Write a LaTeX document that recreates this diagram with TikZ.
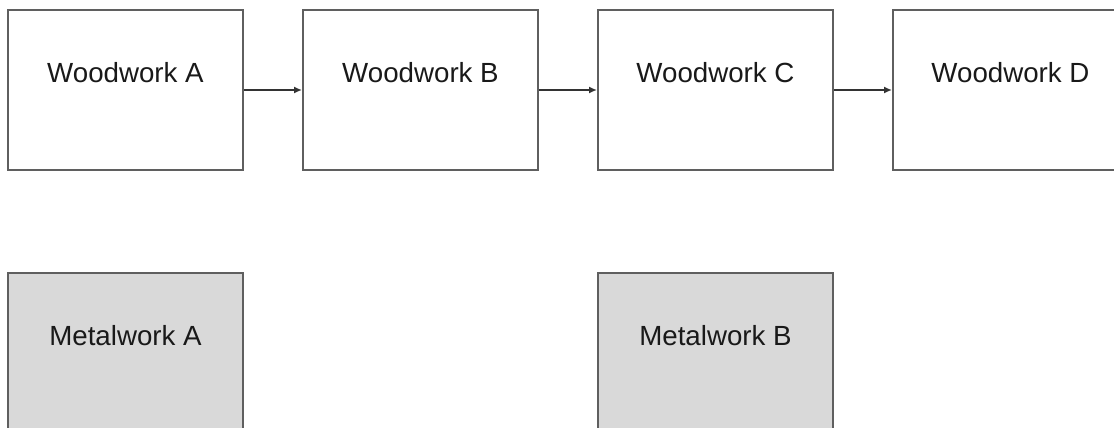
\documentclass[tikz,border=0pt]{standalone}
\usepackage{fontspec}
\setmainfont{Liberation Sans}
\usetikzlibrary{positioning,arrows.meta}
\newcommand{\WorkBoxWidth}{235pt}
\newcommand{\WorkBoxHeight}{160pt}
\definecolor{boxline}{HTML}{5F5F5F}
\definecolor{metalfill}{HTML}{D9D9D9}

\begin{document}
\begin{tikzpicture}[x=1pt, y=1pt, >=Latex,
    workbox/.style={draw=boxline, line width=2pt, rectangle,
                    minimum width=\WorkBoxWidth, minimum height=\WorkBoxHeight,
                    text height=20pt, text depth=36pt, text=black!90,
                    font=\fontsize{27.7}{33}\selectfont},
    metalbox/.style={workbox, fill=metalfill},
    flow/.style={-{Latex[length=8pt,width=7pt]}, line width=1.5pt, draw=black!80}]
    \useasboundingbox (0,0) rectangle (1114,-428);

    % woodwork row
    \node[workbox] (woodA) at (125.5,-90) {Woodwork A};
    \node[workbox, right=58pt of woodA] (woodB) {Woodwork B};
    \node[workbox, right=58pt of woodB] (woodC) {Woodwork C};
    \node[workbox, right=58pt of woodC] (woodD) {Woodwork D};

    % metalwork row
    \node[metalbox, below=101pt of woodA] (metalA) {Metalwork A};
    \node[metalbox, below=101pt of woodC] (metalB) {Metalwork B};

    % draw connectors
    \draw[flow] (woodA) -- (woodB);
    \draw[flow] (woodB) -- (woodC);
    \draw[flow] (woodC) -- (woodD);
\end{tikzpicture}
\end{document}
